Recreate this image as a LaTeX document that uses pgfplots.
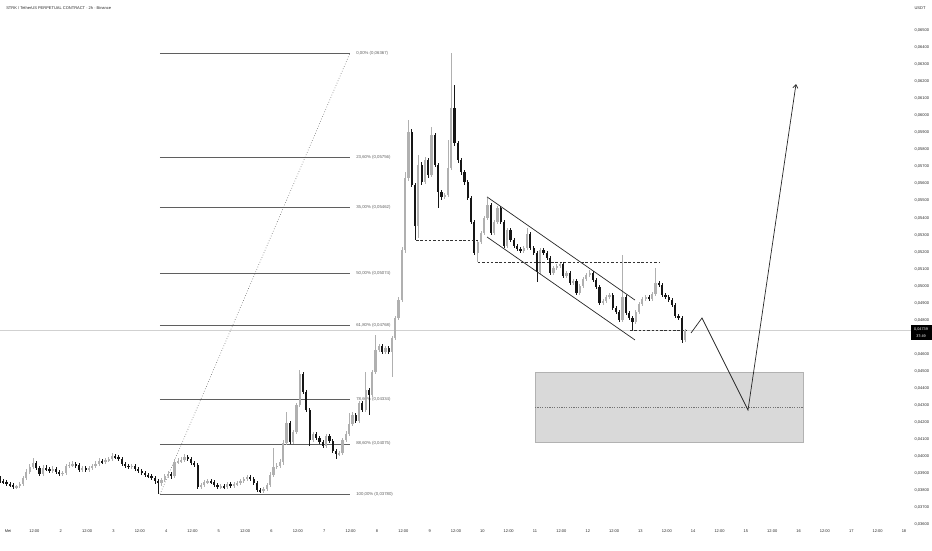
\documentclass[border=0pt]{standalone}
\usepackage{fontspec}
\setmainfont{Liberation Sans}
\usepackage{pgfplots}
\usepackage{pgfplotstable}
\pgfplotsset{compat=1.18}
\usetikzlibrary{arrows.meta}

\definecolor{upc}{RGB}{176,176,176}
\definecolor{dnc}{RGB}{22,22,22}
\definecolor{fibc}{RGB}{95,95,95}
\definecolor{boxc}{RGB}{217,217,217}
\definecolor{txtc}{RGB}{40,40,40}

% STRK/USDT candles: n = candle index, o h l c = open high low close
\pgfplotstableread{
n o h l c
0 0.03874 0.03886 0.03845 0.03857
1 0.03857 0.03869 0.03839 0.03851
2 0.03851 0.03863 0.03827 0.03839
3 0.03839 0.03851 0.03822 0.03833
4 0.03833 0.03845 0.03810 0.03822
5 0.03822 0.03833 0.03810 0.03827
6 0.03827 0.03851 0.03816 0.03839
7 0.03839 0.03886 0.03827 0.03874
8 0.03874 0.03927 0.03863 0.03910
9 0.03910 0.03956 0.03898 0.03939
10 0.03939 0.03992 0.03927 0.03962
11 0.03962 0.03974 0.03921 0.03933
12 0.03933 0.03945 0.03886 0.03898
13 0.03898 0.03951 0.03886 0.03933
14 0.03933 0.03951 0.03915 0.03927
15 0.03927 0.03939 0.03904 0.03915
16 0.03915 0.03945 0.03904 0.03927
17 0.03927 0.03939 0.03898 0.03910
18 0.03910 0.03921 0.03886 0.03898
19 0.03898 0.03915 0.03886 0.03904
20 0.03904 0.03956 0.03892 0.03945
21 0.03945 0.03968 0.03933 0.03951
22 0.03951 0.03974 0.03939 0.03956
23 0.03956 0.03968 0.03933 0.03951
24 0.03951 0.03962 0.03910 0.03921
25 0.03921 0.03945 0.03910 0.03933
26 0.03933 0.03945 0.03910 0.03921
27 0.03921 0.03945 0.03910 0.03933
28 0.03933 0.03956 0.03921 0.03945
29 0.03945 0.03974 0.03933 0.03956
30 0.03956 0.03992 0.03945 0.03974
31 0.03974 0.03986 0.03956 0.03968
32 0.03968 0.03992 0.03956 0.03980
33 0.03980 0.03997 0.03968 0.03986
34 0.03986 0.04021 0.03974 0.04003
35 0.04003 0.04015 0.03986 0.03997
36 0.03997 0.04009 0.03974 0.03986
37 0.03986 0.03997 0.03945 0.03956
38 0.03956 0.03968 0.03933 0.03945
39 0.03945 0.03956 0.03927 0.03939
40 0.03939 0.03956 0.03927 0.03945
41 0.03945 0.03956 0.03915 0.03927
42 0.03927 0.03939 0.03904 0.03915
43 0.03915 0.03927 0.03892 0.03904
44 0.03904 0.03915 0.03880 0.03892
45 0.03892 0.03904 0.03874 0.03886
46 0.03886 0.03898 0.03863 0.03874
47 0.03874 0.03886 0.03839 0.03857
48 0.03857 0.03869 0.03780 0.03845
49 0.03845 0.03874 0.03827 0.03863
50 0.03863 0.03898 0.03851 0.03886
51 0.03886 0.03915 0.03874 0.03898
52 0.03898 0.03910 0.03869 0.03886
53 0.03886 0.03986 0.03874 0.03968
54 0.03968 0.03992 0.03956 0.03974
55 0.03974 0.03997 0.03962 0.03980
56 0.03980 0.04015 0.03968 0.03997
57 0.03997 0.04009 0.03974 0.03986
58 0.03986 0.03997 0.03951 0.03962
59 0.03962 0.03974 0.03939 0.03951
60 0.03951 0.03962 0.03810 0.03822
61 0.03822 0.03845 0.03810 0.03833
62 0.03833 0.03863 0.03822 0.03851
63 0.03851 0.03869 0.03839 0.03857
64 0.03857 0.03869 0.03839 0.03851
65 0.03851 0.03863 0.03822 0.03833
66 0.03833 0.03845 0.03810 0.03822
67 0.03822 0.03839 0.03810 0.03827
68 0.03827 0.03839 0.03810 0.03822
69 0.03822 0.03851 0.03810 0.03839
70 0.03839 0.03851 0.03816 0.03827
71 0.03827 0.03851 0.03816 0.03839
72 0.03839 0.03857 0.03827 0.03845
73 0.03845 0.03869 0.03833 0.03857
74 0.03857 0.03880 0.03845 0.03869
75 0.03869 0.03892 0.03857 0.03880
76 0.03880 0.03892 0.03857 0.03869
77 0.03869 0.03880 0.03833 0.03845
78 0.03845 0.03857 0.03792 0.03804
79 0.03804 0.03816 0.03786 0.03798
80 0.03798 0.03822 0.03786 0.03810
81 0.03810 0.03845 0.03798 0.03833
82 0.03833 0.03910 0.03822 0.03892
83 0.03892 0.04050 0.03880 0.03939
84 0.03939 0.03962 0.03927 0.03945
85 0.03945 0.03986 0.03933 0.03968
86 0.03968 0.04097 0.03951 0.04079
87 0.04079 0.04261 0.04068 0.04197
88 0.04197 0.04209 0.04074 0.04085
89 0.04085 0.04156 0.04074 0.04144
90 0.04144 0.04314 0.04132 0.04303
91 0.04303 0.04508 0.04291 0.04485
92 0.04485 0.04496 0.04367 0.04379
93 0.04379 0.04390 0.04261 0.04273
94 0.04273 0.04285 0.04062 0.04097
95 0.04097 0.04144 0.04085 0.04132
96 0.04132 0.04144 0.04097 0.04109
97 0.04109 0.04121 0.04074 0.04085
98 0.04085 0.04097 0.04050 0.04062
99 0.04062 0.04132 0.04050 0.04121
100 0.04121 0.04132 0.04079 0.04091
101 0.04091 0.04103 0.04021 0.04033
102 0.04033 0.04044 0.03986 0.04015
103 0.04015 0.04033 0.04003 0.04021
104 0.04021 0.04109 0.04009 0.04097
105 0.04097 0.04150 0.04085 0.04132
106 0.04132 0.04256 0.04121 0.04191
107 0.04191 0.04261 0.04179 0.04244
108 0.04244 0.04256 0.04197 0.04209
109 0.04209 0.04326 0.04197 0.04314
110 0.04314 0.04326 0.04261 0.04273
111 0.04273 0.04496 0.04261 0.04390
112 0.04390 0.04402 0.04244 0.04361
113 0.04361 0.04508 0.04349 0.04496
114 0.04496 0.04713 0.04485 0.04625
115 0.04625 0.04660 0.04613 0.04648
116 0.04648 0.04660 0.04602 0.04613
117 0.04613 0.04648 0.04602 0.04637
118 0.04637 0.04648 0.04602 0.04613
119 0.04613 0.04707 0.04467 0.04696
120 0.04696 0.04825 0.04684 0.04813
121 0.04813 0.04936 0.04801 0.04918
122 0.04918 0.05229 0.04907 0.05212
123 0.05212 0.05669 0.05194 0.05634
124 0.05634 0.05974 0.05616 0.05904
125 0.05904 0.05921 0.05581 0.05593
126 0.05593 0.05604 0.05270 0.05352
127 0.05352 0.05769 0.05282 0.05710
128 0.05710 0.05728 0.05593 0.05610
129 0.05610 0.05757 0.05599 0.05739
130 0.05739 0.05751 0.05634 0.05651
131 0.05651 0.05933 0.05640 0.05886
132 0.05886 0.05898 0.05698 0.05710
133 0.05710 0.05722 0.05458 0.05552
134 0.05552 0.05564 0.05505 0.05523
135 0.05523 0.05546 0.05511 0.05534
136 0.05534 0.05857 0.05523 0.05693
137 0.05693 0.06367 0.05681 0.06044
138 0.06044 0.06180 0.05822 0.05839
139 0.05839 0.05851 0.05722 0.05739
140 0.05739 0.05751 0.05651 0.05669
141 0.05669 0.05681 0.05593 0.05610
142 0.05610 0.05622 0.05505 0.05517
143 0.05517 0.05529 0.05364 0.05376
144 0.05376 0.05388 0.05182 0.05194
145 0.05194 0.05270 0.05141 0.05258
146 0.05258 0.05323 0.05247 0.05311
147 0.05311 0.05411 0.05300 0.05399
148 0.05399 0.05517 0.05388 0.05476
149 0.05476 0.05487 0.05300 0.05311
150 0.05311 0.05388 0.05300 0.05376
151 0.05376 0.05470 0.05364 0.05458
152 0.05458 0.05470 0.05364 0.05376
153 0.05376 0.05388 0.05223 0.05235
154 0.05235 0.05341 0.05223 0.05329
155 0.05329 0.05341 0.05258 0.05270
156 0.05270 0.05282 0.05223 0.05235
157 0.05235 0.05247 0.05206 0.05218
158 0.05218 0.05229 0.05194 0.05206
159 0.05206 0.05235 0.05194 0.05223
160 0.05223 0.05341 0.05212 0.05306
161 0.05306 0.05317 0.05212 0.05223
162 0.05223 0.05235 0.05182 0.05194
163 0.05194 0.05206 0.05024 0.05083
164 0.05083 0.05223 0.05071 0.05212
165 0.05212 0.05223 0.05182 0.05194
166 0.05194 0.05206 0.05153 0.05165
167 0.05165 0.05176 0.05065 0.05077
168 0.05077 0.05118 0.05065 0.05106
169 0.05106 0.05129 0.05094 0.05118
170 0.05118 0.05141 0.05106 0.05129
171 0.05129 0.05141 0.05047 0.05059
172 0.05059 0.05089 0.05047 0.05077
173 0.05077 0.05089 0.05006 0.05018
174 0.05018 0.05042 0.05006 0.05030
175 0.05030 0.05042 0.04948 0.04959
176 0.04959 0.05012 0.04948 0.05000
177 0.05000 0.05053 0.04989 0.05042
178 0.05042 0.05077 0.05030 0.05065
179 0.05065 0.05094 0.05053 0.05077
180 0.05077 0.05089 0.05024 0.05036
181 0.05036 0.05047 0.04983 0.04995
182 0.04995 0.05006 0.04889 0.04901
183 0.04901 0.04924 0.04889 0.04912
184 0.04912 0.04948 0.04901 0.04936
185 0.04936 0.04959 0.04924 0.04948
186 0.04948 0.04959 0.04860 0.04871
187 0.04871 0.04883 0.04836 0.04848
188 0.04848 0.04860 0.04789 0.04801
189 0.04801 0.05182 0.04789 0.04936
190 0.04936 0.04948 0.04830 0.04842
191 0.04842 0.04854 0.04801 0.04813
192 0.04813 0.04825 0.04742 0.04789
193 0.04789 0.04860 0.04778 0.04848
194 0.04848 0.04907 0.04836 0.04895
195 0.04895 0.04936 0.04883 0.04924
196 0.04924 0.04948 0.04912 0.04936
197 0.04936 0.04948 0.04912 0.04924
198 0.04924 0.04965 0.04912 0.04954
199 0.04954 0.05106 0.04942 0.05018
200 0.05018 0.05030 0.04995 0.05006
201 0.05006 0.05018 0.04936 0.04948
202 0.04948 0.04959 0.04924 0.04936
203 0.04936 0.04948 0.04907 0.04918
204 0.04918 0.04930 0.04877 0.04889
205 0.04889 0.04901 0.04813 0.04825
206 0.04825 0.04836 0.04801 0.04813
207 0.04813 0.04825 0.04666 0.04684
208 0.04684 0.04748 0.04672 0.04739
}\candles

\pgfplotsset{
  wick/.style={draw=none, mark=none, forget plot,
    error bars/.cd, y dir=both, y explicit, error mark=none,
    error bar style={line width=0.6pt, draw=#1, solid}},
  body/.style={draw=none, mark=none, forget plot,
    error bars/.cd, y dir=both, y explicit, error mark=none,
    error bar style={line width=2.2pt, draw=#1, solid}},
}

\begin{document}
\begin{tikzpicture}[x=1pt,y=1pt]
\useasboundingbox (0,0) rectangle (932,550);
\begin{axis}[
  at={(0,0)}, anchor=south west,
  scale only axis, width=905pt, height=550pt,
  xmin=0, xmax=274.74,
  ymin=0.0345225, ymax=0.0667785,
  axis line style={draw=none},
  major tick length=0pt,
  scaled y ticks=false,
  yticklabel pos=right,
  ytick={0.036,0.037,0.038,0.039,0.040,0.041,0.042,0.043,0.044,0.045,0.046,0.048,0.049,0.050,0.051,0.052,0.053,0.054,0.055,0.056,0.057,0.058,0.059,0.060,0.061,0.062,0.063,0.064,0.065},
  yticklabel style={xshift=6pt, text=txtc,
    /pgf/number format/fixed, /pgf/number format/fixed zerofill,
    /pgf/number format/precision=5, /pgf/number format/use comma,
    /pgf/number format/assume math mode=true},
  xtick={2.43,10.43,18.43,26.43,34.43,42.43,50.43,58.43,66.43,74.43,82.43,90.43,98.43,106.43,114.43,122.43,130.43,138.43,146.43,154.43,162.43,170.43,178.43,186.43,194.43,202.43,210.43,218.43,226.43,234.43,242.43,250.43,258.43,266.43,274.43},
  xticklabels={Mei,12:00,2,12:00,3,12:00,4,12:00,5,12:00,6,12:00,7,12:00,8,12:00,9,12:00,10,12:00,11,12:00,12,12:00,13,12:00,14,12:00,15,12:00,16,12:00,17,12:00,18},
  xticklabel style={anchor=center, yshift=19pt, text=txtc},
  tick label style={font=\fontsize{4}{5}\selectfont},
]

% current price line
\addplot[black!18, line width=0.5pt] coordinates {(0,0.04739) (274.74,0.04739)};

% target zone
\addplot[fill=boxc, draw=black!30, line width=0.5pt] coordinates {(162.42,0.04496) (243.78,0.04496) (243.78,0.04085) (162.42,0.04085)} -- cycle;
\addplot[black!55, dash pattern=on 1.2pt off 1.2pt, line width=0.5pt] coordinates {(162.42,0.04291) (243.78,0.04291)};

% fibonacci levels
\addplot[fibc, line width=0.6pt] coordinates {(48.57,0.06367) (106.25,0.06367)};
\addplot[fibc, line width=0.6pt] coordinates {(48.57,0.05756) (106.25,0.05756)};
\addplot[fibc, line width=0.6pt] coordinates {(48.57,0.05462) (106.25,0.05462)};
\addplot[fibc, line width=0.6pt] coordinates {(48.57,0.05074) (106.25,0.05074)};
\addplot[fibc, line width=0.6pt] coordinates {(48.57,0.04768) (106.25,0.04768)};
\addplot[fibc, line width=0.6pt] coordinates {(48.57,0.04334) (106.25,0.04334)};
\addplot[fibc, line width=0.6pt] coordinates {(48.57,0.04075) (106.25,0.04075)};
\addplot[fibc, line width=0.6pt] coordinates {(48.57,0.03780) (106.25,0.03780)};
\addplot[fibc, dotted, line width=0.6pt] coordinates {(48.57,0.03780) (106.25,0.06367)};

\begin{scope}[font=\fontsize{4.3}{5}\selectfont, text=fibc]
\node[anchor=west] at (axis cs:107.1,0.06367) {0,00\% (0,06367)};
\node[anchor=west] at (axis cs:107.1,0.05756) {23,60\% (0,05756)};
\node[anchor=west] at (axis cs:107.1,0.05462) {35,00\% (0,05462)};
\node[anchor=west] at (axis cs:107.1,0.05074) {50,00\% (0,05074)};
\node[anchor=west] at (axis cs:107.1,0.04768) {61,80\% (0,04768)};
\node[anchor=west] at (axis cs:107.1,0.04334) {78,60\% (0,04334)};
\node[anchor=west] at (axis cs:107.1,0.04075) {88,60\% (0,04075)};
\node[anchor=west] at (axis cs:107.1,0.03780) {100,00\% (0,03780)};
\end{scope}

% candles: wicks then bodies
\addplot[wick=upc] table[x expr={\thisrow{c}>=\thisrow{o} ? \thisrow{n} : -50},
  y expr={(\thisrow{h}+\thisrow{l})/2}, y error expr={(\thisrow{h}-\thisrow{l})/2}] {\candles};
\addplot[wick=dnc] table[x expr={\thisrow{c}<\thisrow{o} ? \thisrow{n} : -50},
  y expr={(\thisrow{h}+\thisrow{l})/2}, y error expr={(\thisrow{h}-\thisrow{l})/2}] {\candles};
\addplot[body=upc] table[x expr={\thisrow{c}>=\thisrow{o} ? \thisrow{n} : -50},
  y expr={(\thisrow{o}+\thisrow{c})/2}, y error expr={max(abs(\thisrow{c}-\thisrow{o})/2,0.000015)}] {\candles};
\addplot[body=dnc] table[x expr={\thisrow{c}<\thisrow{o} ? \thisrow{n} : -50},
  y expr={(\thisrow{o}+\thisrow{c})/2}, y error expr={max(abs(\thisrow{c}-\thisrow{o})/2,0.000015)}] {\candles};

% descending channel
\addplot[black!85, line width=0.7pt] coordinates {(147.85,0.05523) (192.77,0.04918)};
\addplot[black!85, line width=0.7pt] coordinates {(147.85,0.05288) (192.77,0.04684)};

% dashed levels
\addplot[black!80, dash pattern=on 2.5pt off 1.8pt, line width=0.7pt] coordinates {(126.3,0.05270) (145.1,0.05270)};
\addplot[black!80, dash pattern=on 2.5pt off 1.8pt, line width=0.7pt] coordinates {(145.1,0.05141) (200.06,0.05141)};
\addplot[black!80, dash pattern=on 2.5pt off 1.8pt, line width=0.7pt] coordinates {(191.26,0.04742) (208.26,0.04742)};

% projected path
\addplot[black!85, line width=0.7pt, -{Straight Barb[length=3.5pt, width=5pt]}] coordinates {(209.78,0.04725) (213.11,0.04813) (227.08,0.04273) (241.65,0.06185)};

\node[anchor=west, font=\fontsize{4}{5}\selectfont, text=txtc] at (rel axis cs:0.003,0.9855) {STRK / TetherUS PERPETUAL CONTRACT · 2h · Binance};
\end{axis}

% price scale extras
\node[font=\fontsize{4}{5}\selectfont, text=txtc] at (920,542) {USDT};
\draw[black!18, line width=0.5pt] (905,219.4) -- (911,219.4);
\fill[black] (910.5,210) rectangle (931.5,225);
\node[font=\fontsize{3.8}{4}\selectfont, text=white] at (921,221) {0,04739};
\node[font=\fontsize{3.8}{4}\selectfont, text=white] at (921,214) {37:49};
\end{tikzpicture}
\end{document}
